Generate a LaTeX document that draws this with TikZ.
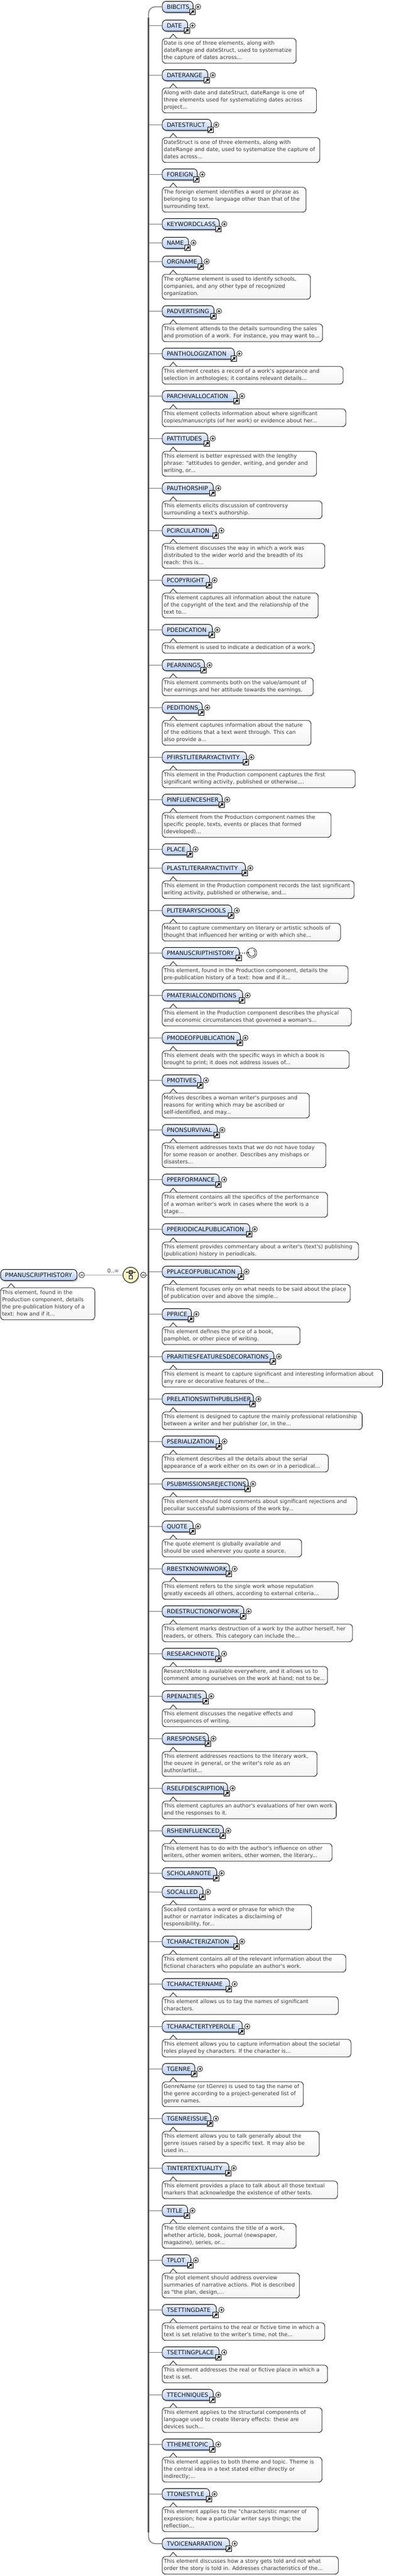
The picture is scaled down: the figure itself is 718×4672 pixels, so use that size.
\documentclass[tikz,border=0pt]{standalone}
\usepackage{fontspec}
\usetikzlibrary{calc,shadows,arrows.meta}
\newfontfamily\diagfont{DejaVu Sans}
\definecolor{titleink}{HTML}{0B1020}
\definecolor{docink}{HTML}{3A3A3A}
\definecolor{elemtop}{HTML}{F0F4FD}
\definecolor{elembot}{HTML}{B8CFF4}
\definecolor{docbot}{HTML}{F4F4F4}
\definecolor{branchgray}{HTML}{707070}
\definecolor{spinegray}{HTML}{555555}
\definecolor{seqfill}{HTML}{FBF6C4}
\tikzset{
  elemnode/.style={draw=black,line width=0.9pt,rounded corners=7pt,top color=elemtop,bottom color=elembot,
    general shadow={fill=black!22,shadow xshift=1.5pt,shadow yshift=-2.5pt},
    inner xsep=8pt,inner ysep=6pt,text height=8pt,text depth=0pt,text=titleink,
    font=\diagfont\fontsize{10.6}{13}\selectfont},
  docnode/.style={draw=black,line width=0.8pt,rounded corners=6pt,top color=white,bottom color=docbot,
    inner xsep=2.7pt,inner ysep=3pt,text=docink,anchor=north west,
    font=\diagfont\fontsize{9.7}{13}\selectfont},
  docpeak/.style={draw=black,line width=0.8pt,fill=white},
  branch/.style={draw=branchgray,line width=1.4pt},
  spineline/.style={draw=spinegray,line width=3.2pt},
  thinline/.style={draw=black!35,line width=0.7pt},
  linkicon/.style={draw=black,line width=0.9pt,fill=white,minimum size=10pt,inner sep=0pt,
    path picture={\draw[line width=1.5pt,-{Triangle[length=4.5pt,width=5.5pt]}]
      ([xshift=-3.5pt,yshift=-3.2pt]path picture bounding box.center) -- ([xshift=3.6pt,yshift=3.4pt]path picture bounding box.center);}},
  plusicon/.style={circle,draw=black,line width=0.7pt,fill=white,minimum size=9.6pt,inner sep=0pt,
    path picture={\draw[line width=0.7pt]
      ([xshift=-2.4pt]path picture bounding box.center) -- ([xshift=2.4pt]path picture bounding box.center)
      ([yshift=-2.4pt]path picture bounding box.center) -- ([yshift=2.4pt]path picture bounding box.center);}},
  minusicon/.style={circle,draw=black,line width=0.7pt,fill=white,minimum size=10pt,inner sep=0pt,
    path picture={\draw[line width=0.7pt]
      ([xshift=-2.4pt]path picture bounding box.center) -- ([xshift=2.4pt]path picture bounding box.center);}},
  recursicon/.style={circle,draw=black,line width=0.7pt,fill=white,minimum size=18pt,inner sep=0pt,
    path picture={\draw[x=1pt,y=1pt,line width=0.7pt,-{Stealth[length=3.5pt,width=3.5pt]}]
      ([xshift=3pt,yshift=5.2pt]path picture bounding box.center) arc[start angle=60,end angle=-205,radius=6pt];}},
  seqnode/.style={circle,draw=black,line width=0.9pt,fill=seqfill,minimum size=28pt,inner sep=0pt,
    general shadow={fill=black!22,shadow xshift=1.5pt,shadow yshift=-2pt}},
  seqsquare/.style={draw=black,line width=0.7pt,minimum size=6pt,inner sep=0pt},
  seqdot/.style={circle,fill=black,minimum size=2.2pt,inner sep=0pt},
  dotlink/.style={draw=black,line width=1pt,dash pattern=on 2pt off 2pt},
  occurs/.style={font=\diagfont\fontsize{10}{12}\selectfont,text=docink,inner sep=0pt},
}
% box, link mark and expand mark of one element
\newcommand\elemcore[4]{%
  \pgfmathsetmacro\elw{#4-294.3-16}%
  \node[elemnode,anchor=west] (#1) at (294.3,#3) {\makebox[\elw pt][l]{#2}};
  \node[linkicon] (#1-link) at ($(#1.east)+(-1.7,9.5)$) {};
}
\newcommand\elemplus[1]{\node[plusicon] (#1-more) at ($(#1.east)+(8.7,0)$) {};}
\newcommand\elembranch[1]{\draw[branch] (spine |- #1.west) -- (#1.west);}
\newcommand\elem[4]{\elemcore{#1}{#2}{#3}{#4}\elemplus{#1}\elembranch{#1}}
% documentation callout below an element: id, right edge, text
\newcommand\docnote[3]{%
  \pgfmathsetmacro\dcw{#2-294.3-5.4}%
  \node[docnode] (#1-doc) at ($(#1.west)+(0,23)$)
    {\makebox[\dcw pt][l]{\begin{tabular}{@{}l@{}}#3\end{tabular}}};
  \draw[docpeak] ($(#1-doc.north west)+(14,0)$) -- ($(#1-doc.north west)+(20,-7.3)$) -- ($(#1-doc.north west)+(26.7,0)$);
}
\newcommand\edoc[7]{\elem{#1}{#2}{#3}{#4}\docnote{#1}{#5}{#7}}
\begin{document}
\begin{tikzpicture}[x=1pt,y=-1pt]
\path[use as bounding box,fill=white] (0,0) rectangle (718,4672);
\coordinate (spine) at (269.7,0);

\elemcore{bibcits}{BIBCITS}{12.3}{350}\elemplus{bibcits}
\edoc{date}{DATE}{46.3}{340}{537.3}{3}{Date is one of three elements, along with\\dateRange and dateStruct, used to systematize\\the capture of dates across...}
\edoc{daterange}{DATERANGE}{136.3}{376.7}{574.3}{3}{Along with date and dateStruct, dateRange is one of\\three elements used for systematizing dates across\\project...}
\edoc{datestruct}{DATESTRUCT}{226.3}{383}{580.3}{3}{DateStruct is one of three elements, along with\\dateRange and date, used to systematize the capture of\\dates across...}
\edoc{foreign}{FOREIGN}{316.3}{357.7}{555.3}{3}{The foreign element identifies a word or phrase as\\belonging to some language other than that of the\\surrounding text.}
\elem{keywordclass}{KEYWORDCLASS}{406.3}{397.7}
\elem{name}{NAME}{440.3}{341.7}
\edoc{orgname}{ORGNAME}{474.3}{365.7}{563.3}{3}{The orgName element is used to identify schools,\\companies, and any other type of recognized\\organization.}
\edoc{padvertising}{PADVERTISING}{564.3}{388}{585.3}{2}{This element attends to the details surrounding the sales\\and promotion of a work. For instance, you may want to...}
\edoc{panthologization}{PANTHOLOGIZATION}{641.3}{425}{622.5}{2}{This element creates a record of a work's appearance and\\selection in anthologies; it contains relevant details...}
\edoc{parchivallocation}{PARCHIVALLOCATION}{718.3}{430}{627.5}{2}{This element collects information about where significant\\copies/manuscripts (of her work) or evidence about her...}
\edoc{pattitudes}{PATTITUDES}{795.3}{376.7}{574.3}{3}{This element is better expressed with the lengthy\\phrase: "attitudes to gender, writing, and gender and\\writing, or...}
\edoc{pauthorship}{PAUTHORSHIP}{885.3}{386.7}{584.3}{2}{This elements elicits discussion of controversy\\surrounding a text's authorship.}
\edoc{pcirculation}{PCIRCULATION}{962.3}{392.3}{589.3}{3}{This element discusses the way in which a work was\\distributed to the wider world and the breadth of its\\reach: this is...}
\edoc{pcopyright}{PCOPYRIGHT}{1052.3}{380}{577.3}{3}{This element captures all information about the nature\\of the copyright of the text and the relationship of the\\text to...}
\edoc{pdedication}{PDEDICATION}{1142.3}{385}{570.3}{1}{This element is used to indicate a dedication of a work.}
\edoc{pearnings}{PEARNINGS}{1206.3}{370.7}{568.3}{2}{This element comments both on the value/amount of\\her earnings and her attitude towards the earnings.}
\edoc{peditions}{PEDITIONS}{1283.3}{366.7}{564.3}{3}{This element captures information about the nature\\of the editions that a text went through. This can\\also provide a...}
\edoc{pfirst}{PFIRSTLITERARYACTIVITY}{1373.3}{447}{644.5}{2}{This element in the Production component captures the first\\significant writing activity, published or otherwise....}
\edoc{pinfluencesher}{PINFLUENCESHER}{1450.3}{403}{600.5}{3}{This element from the Production component names the\\specific people, texts, events or places that formed\\(developed)...}
\elem{place}{PLACE}{1540.3}{345.3}
\edoc{plast}{PLASTLITERARYACTIVITY}{1574.3}{445}{642.5}{2}{This element in the Production component records the last significant\\writing activity, published or otherwise, and...}
\edoc{pliteraryschools}{PLITERARYSCHOOLS}{1651.3}{420.3}{617.8}{2}{Meant to capture commentary on literary or artistic schools of\\thought that influenced her writing or with which she...}
\elemcore{pmanuscript}{PMANUSCRIPTHISTORY}{1728.3}{434}\elembranch{pmanuscript}
\node[recursicon] (pmanuscript-recur) at ($(pmanuscript.east)+(22.3,0)$) {};
\draw[dotlink] (pmanuscript.east) -- (pmanuscript-recur.west);
\docnote{pmanuscript}{631.5}{This element, found in the Production component, details the\\pre-publication history of a text: how and if it...}
\edoc{pmaterial}{PMATERIALCONDITIONS}{1805.3}{440}{637.5}{2}{This element in the Production component describes the physical\\and economic circumstances that governed a woman's...}
\edoc{pmodeofpub}{PMODEOFPUBLICATION}{1882.3}{436}{633.5}{2}{This element deals with the specific ways in which a book is\\brought to print; it does not address issues of...}
\edoc{pmotives}{PMOTIVES}{1959.3}{364.3}{561.3}{3}{Motives describes a woman writer's purposes and\\reasons for writing which may be ascribed or\\self-identified, and may...}
\edoc{pnonsurvival}{PNONSURVIVAL}{2049.3}{394}{591.3}{3}{This element addresses texts that we do not have today\\for some reason or another. Describes any mishaps or\\disasters...}
\edoc{pperformance}{PPERFORMANCE}{2139.3}{397.3}{594.3}{3}{This element contains all the specifics of the performance\\of a woman writer's work in cases where the work is a\\stage...}
\edoc{pperiodical}{PPERIODICALPUBLICATION}{2229.3}{453}{650.5}{2}{This element provides commentary about a writer's (text's) publishing\\(publication) history in periodicals.}
\edoc{pplaceofpub}{PPLACEOFPUBLICATION}{2306.3}{438}{635.5}{2}{This element focuses only on what needs to be said about the place\\of publication over and above the simple...}
\edoc{pprice}{PPRICE}{2383.3}{347}{544.3}{2}{This element defines the price of a book,\\pamphlet, or other piece of writing.}
\edoc{prarities}{PRARITIESFEATURESDECORATIONS}{2460.3}{496.7}{694.2}{2}{This element is meant to capture significant and interesting information about\\any rare or decorative features of the...}
\edoc{prelations}{PRELATIONSWITHPUBLISHER}{2537.3}{459.7}{657.2}{2}{This element is designed to capture the mainly professional relationship\\between a writer and her publisher (or, in the...}
\edoc{pserialization}{PSERIALIZATION}{2614.3}{398}{595.7}{2}{This element describes all the details about the serial\\appearance of a work either on its own or in a periodical...}
\edoc{psubmissions}{PSUBMISSIONSREJECTIONS}{2691.3}{450}{647.5}{2}{This element should hold comments about significant rejections and\\peculiar successful submissions of the work by...}
\edoc{quote}{QUOTE}{2768.3}{350}{547.3}{2}{The quote element is globally available and\\should be used wherever you quote a source.}
\edoc{rbestknown}{RBESTKNOWNWORK}{2845.3}{416.3}{613.8}{2}{This element refers to the single work whose reputation\\greatly exceeds all others, according to external criteria...}
\edoc{rdestruction}{RDESTRUCTIONOFWORK}{2922.3}{442}{639.5}{2}{This element marks destruction of a work by the author herself, her\\readers, or others. This category can include the...}
\edoc{researchnote}{RESEARCHNOTE}{2999.3}{397.3}{594.3}{2}{ResearchNote is available everywhere, and it allows us to\\comment among ourselves on the work at hand; not to be...}
\edoc{rpenalties}{RPENALTIES}{3076.3}{374}{571.3}{2}{This element discusses the negative effects and\\consequences of writing.}
\edoc{rresponses}{RRESPONSES}{3153.3}{378}{575.3}{3}{This element addresses reactions to the literary work,\\the oeuvre in general, or the writer's role as an\\author/artist...}
\edoc{rselfdescription}{RSELFDESCRIPTION}{3243.3}{412.7}{610.2}{2}{This element captures an author's evaluations of her own work\\and the responses to it.}
\edoc{rsheinfluenced}{RSHEINFLUENCED}{3320.3}{405}{602.5}{2}{This element has to do with the author's influence on other\\writers, other women writers, other women, the literary...}
\elem{scholarnote}{SCHOLARNOTE}{3397.3}{393}
\edoc{socalled}{SOCALLED}{3431.3}{368}{565.3}{3}{Socalled contains a word or phrase for which the\\author or narrator indicates a disclaiming of\\responsibility, for...}
\edoc{tcharacterization}{TCHARACTERIZATION}{3521.3}{430}{627.5}{2}{This element contains all of the relevant information about the\\fictional characters who populate an author's work.}
\edoc{tcharactername}{TCHARACTERNAME}{3598.3}{416.3}{613.8}{2}{This element allows us to tag the names of significant\\characters.}
\edoc{tcharactertyperole}{TCHARACTERTYPEROLE}{3675.3}{439.3}{636.8}{2}{This element allows you to capture information about the societal\\roles played by characters. If the character is...}
\edoc{tgenre}{TGENRE}{3752.3}{353.3}{550.3}{3}{GenreName (or tGenre) is used to tag the name of\\the genre according to a project-generated list of\\genre names.}
\edoc{tgenreissue}{TGENREISSUE}{3842.3}{382.3}{579.3}{3}{This element allows you to talk generally about the\\genre issues raised by a specific text. It may also be\\used in...}
\edoc{tintertextuality}{TINTERTEXTUALITY}{3932.3}{415}{612.5}{2}{This element provides a place to talk about all those textual\\markers that acknowledge the existence of other texts.}
\edoc{title}{TITLE}{4009.3}{340}{537.3}{3}{The title element contains the title of a work,\\whether article, book, journal (newspaper,\\magazine), series, or...}
\edoc{tplot}{TPLOT}{4099.3}{346}{543.3}{3}{The plot element should address overview\\summaries of narrative actions. Plot is described\\as "the plan, design,...}
\edoc{tsettingdate}{TSETTINGDATE}{4189.3}{392.3}{589.3}{2}{This element pertains to the real or fictive time in which a\\text is set relative to the writer's time, not the...}
\edoc{tsettingplace}{TSETTINGPLACE}{4266.3}{397.3}{594.3}{2}{This element addresses the real or fictive place in which a\\text is set.}
\edoc{ttechniques}{TTECHNIQUES}{4343.3}{386.7}{584.3}{3}{This element applies to the structural components of\\language used to create literary effects: these are\\devices such...}
\edoc{tthemetopic}{TTHEMETOPIC}{4433.3}{386.7}{584.3}{3}{This element applies to both theme and topic. Theme is\\the central idea in a text stated either directly or\\indirectly;...}
\edoc{ttonestyle}{TTONESTYLE}{4523.3}{380}{577.3}{3}{This element applies to the "characteristic manner of\\expression; how a particular writer says things; the\\reflection...}
\elemcore{tvoice}{TVOICENARRATION}{4613.3}{416.3}\elemplus{tvoice}
\docnote{tvoice}{613.8}{This element discusses how a story gets told and not what\\order the story is told in. Addresses characteristics of the...}

% spine with its rounded ends
\draw[branch,rounded corners=12pt] (bibcits.west) -- (spine |- bibcits.west) -- ($(spine |- bibcits.west)+(0,26)$);
\draw[branch,rounded corners=12pt] (tvoice.west) -- (spine |- tvoice.west) -- ($(spine |- tvoice.west)+(0,-26)$);
\draw[spineline] ($(spine |- bibcits.west)+(0,20)$) -- ($(spine |- tvoice.west)+(0,-20)$);

% root element
\node[elemnode,anchor=west] (root) at (0.7,2312.3) {\makebox[122.6pt][l]{PMANUSCRIPTHISTORY}};
\node[minusicon] (rootminus) at (148.3,2312.3) {};
\node[seqnode] (seq) at (237.3,2312.3) {};
\node[minusicon] (seqminus) at (260.3,2312.3) {};
\draw[thinline] (rootminus.east) -- (seq.west);
\node[occurs,anchor=center] (occ) at (205.5,2305.3) {0..∞};
\draw[branch] (seqminus.east) -- (spine |- seqminus.east);
\node[seqsquare,fill=black!45] (seqa) at (237.3,2307.7) {};
\node[seqsquare,fill=white] (seqb) at (237.3,2316.3) {};
\node[seqdot] (seqdotl) at (230,2307.7) {};
\node[seqdot] (seqdotr) at (245,2307.7) {};
\draw[line width=0.7pt] (seqdotl) -- (seqa) (seqa) -- (seqdotr) (seqa) -- (seqb);
\node[docnode] (root-doc) at (0.7,2335.3)
  {\makebox[165.6pt][l]{\begin{tabular}{@{}l@{}}This element, found in the\\Production component, details\\the pre-publication history of a\\text: how and if it...\end{tabular}}};
\draw[docpeak] ($(root-doc.north west)+(13,0)$) -- ($(root-doc.north west)+(19.3,-7.3)$) -- ($(root-doc.north west)+(26,0)$);
\end{tikzpicture}
\end{document}
